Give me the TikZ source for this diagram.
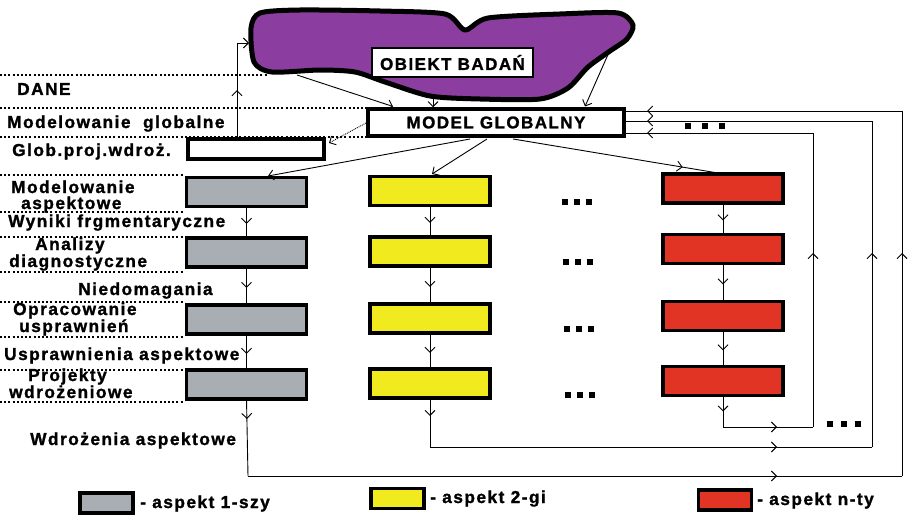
\documentclass[tikz,border=0pt]{standalone}
\usepackage{fontspec}
\setmainfont{Liberation Sans}
\newfontfamily\labfont{Liberation Sans}[LetterSpace=8.5, BoldFeatures={FakeBold=1.3}]
\usetikzlibrary{arrows.meta,decorations.markings}
\definecolor{blobc}{RGB}{140,62,160}
\definecolor{grayc}{RGB}{168,174,180}
\definecolor{yelc}{RGB}{240,234,30}
\definecolor{redc}{RGB}{226,52,36}
\tikzset{
  lab/.style={font=\labfont\bfseries\fontsize{17.3}{16}\selectfont, inner sep=0pt, anchor=base west},
  abox/.style={draw, line width=3.5pt, minimum width=120pt, minimum height=29pt, inner sep=0pt, outer sep=0pt},
  gbox/.style={abox, fill=grayc},
  ybox/.style={abox, fill=yelc},
  rbox/.style={abox, fill=redc},
  lbox/.style={draw, line width=3.5pt, minimum width=53pt, minimum height=20pt, inner sep=0pt},
  conn/.style={line width=0.9pt},
  barb/.style={-{Straight Barb[length=5pt,width=10pt]}},
  dotl/.style={line width=1.2pt, dash pattern=on 2pt off 2.2pt},
  tipat/.style={postaction={decorate}, decoration={markings, mark=at position #1 with {\arrow{Straight Barb[length=5pt,width=10pt,line width=0.9pt]}}}},
  sq/.style={fill=black, minimum size=5.5pt, inner sep=0pt},
}
\begin{document}
\begin{tikzpicture}[x=1pt, y=-1pt]
\useasboundingbox (0,0) rectangle (911,516);
\fill[white] (0,0) rectangle (911,516);

% dotted level lines
\draw[dotl] (0,75) -- (268,75);
\draw[dotl] (0,108) -- (367,108);
\draw[dotl] (0,137) -- (367,137);
\foreach \yy in {175,212,237,272,302,337,370,402}
  \draw[dotl] (0,\yy) -- (184,\yy);

% blob
\draw[line width=5pt, fill=blobc, line join=round] plot[smooth cycle, tension=0.45] coordinates {
 (260,13) (300,10) (380,11) (445,14) (465,30) (488,18) (560,14) (618,13) (633,25) (627,39)
 (610,51) (588,67) (568,88) (540,99) (480,99) (430,96) (385,82) (355,72) (320,70) (272,72) (254,62) (251,28)};
\coordinate (bl) at (297,75);
\coordinate (bm) at (433,97);
\coordinate (br) at (610,50);
\coordinate (bin) at (249,43);

\node[draw, line width=2pt, fill=white, minimum width=161pt, minimum height=29pt, inner sep=0pt,
      font=\labfont\bfseries\fontsize{17}{17}\selectfont] (obj) at (452.5,62.5) {OBIEKT BADAŃ};
\node[draw, line width=3.5pt, fill=white, minimum width=256pt, minimum height=27pt, inner sep=0pt,
      font=\labfont\bfseries\fontsize{17}{17}\selectfont] (mg) at (496,122.5) {MODEL GLOBALNY};
\node[draw, line width=3.5pt, fill=white, minimum width=136pt, minimum height=20pt, inner sep=0pt] (glob) at (256,149) {};

% aspect boxes
\node[gbox] (g1) at (246.5,192) {};
\node[gbox] (g2) at (246.5,252.5) {};
\node[gbox] (g3) at (246.5,319.5) {};
\node[gbox] (g4) at (246.5,384.5) {};
\node[ybox] (y1) at (430,191) {};
\node[ybox] (y2) at (430,251.5) {};
\node[ybox] (y3) at (430,318.5) {};
\node[ybox] (y4) at (430,383.5) {};
\node[rbox] (r1) at (723,188.5) {};
\node[rbox] (r2) at (723,249) {};
\node[rbox] (r3) at (723,316) {};
\node[rbox] (r4) at (723,381) {};

% vertical arrows between boxes
\foreach \c in {g,y,r}{
  \draw[conn, tipat=0.55] (\c1.south) -- (\c2.north);
  \draw[conn, tipat=0.55] (\c2.south) -- (\c3.north);
  \draw[conn, tipat=0.55] (\c3.south) -- (\c4.north);
}

% blob -> model
\draw[conn, barb] (bl) -- (393,106.5);
\draw[conn, barb] (bm) -- (bm |- mg.north);
\draw[conn, barb] (br) -- (585,106.5);

% glob -> blob
\coordinate (gu) at (237,43);
\draw[conn, tipat=0.5] (glob.north -| gu) -- (gu);
\draw[conn, barb] (gu) -- (bin);

% model -> glob
\draw[conn, densely dotted, barb] (366,123) -- (329,143);

% model -> first boxes
\draw[conn, barb] (470,139) -- (268,176);
\draw[conn, barb] (487,139) -- (432,174);
\draw[conn, tipat=0.84] (513,139) -- (715,172.5);

% feedback loops
\coordinate (gA) at (248,476);
\coordinate (gB) at (902,476);
\coordinate (gC) at (902,111);
\coordinate (yA) at (430,447);
\coordinate (yB) at (872,447);
\coordinate (yC) at (872,121);
\coordinate (rA) at (723,427);
\coordinate (rB) at (813,427);
\coordinate (rC) at (813,133);

\draw[conn, tipat=20pt] (g4.south) -- (gA);
\draw[conn, tipat=529pt] (gA) -- (gB);
\draw[conn, tipat=223pt] (gB) -- (gC);
\draw[conn, tipat=255pt] (gC) -- (gC -| mg.east);

\draw[conn, tipat=18pt] (y4.south) -- (yA);
\draw[conn, tipat=347pt] (yA) -- (yB);
\draw[conn, tipat=194pt] (yB) -- (yC);
\draw[conn, tipat=225pt] (yC) -- (yC -| mg.east);

\draw[conn, tipat=16pt] (r4.south) -- (rA);
\draw[conn, tipat=54pt] (rA) -- (rB);
\draw[conn, tipat=174pt] (rB) -- (rC);
\draw[conn, tipat=166pt] (rC) -- (rC -| mg.east);

% dots
\foreach \px/\py in {565/202, 577/202, 589/202, 566/262, 578/262, 590/262,
                     567/329, 579/329, 591/329, 568/395, 580/395, 592/395,
                     688/126, 705/126, 722/126, 830/424, 844/424, 858/424}
  \node[sq] at (\px,\py) {};

% left labels
\node[lab] (t1) at (17,95) {DANE};
\node[lab] (t2) at (7,128) {Modelowanie\ \ globalne};
\node[lab] (t3) at (12,156) {Glob.proj.wdroż.};
\node[lab, align=left] (t4) at (11,209) {Modelowanie\\\hspace*{10pt}aspektowe};
\node[lab] (t6) at (8,227) {Wyniki frgmentaryczne};
\node[lab] (t7) at (35,250) {Analizy};
\node[lab] (t8) at (9,267) {diagnostyczne};
\node[lab] (t9) at (78,295) {Niedomagania};
\node[lab] (t10) at (13,315) {Opracowanie};
\node[lab] (t11) at (19,332) {usprawnień};
\node[lab] (t12) at (4,360) {Usprawnienia aspektowe};
\node[lab] (t13) at (28,381) {Projekty};
\node[lab] (t14) at (9,398) {wdrożeniowe};
\node[lab] (t15) at (30,445) {Wdrożenia aspektowe};

% legend
\node[lbox, fill=grayc] (lg) at (106.5,503) {};
\node[lab] at (140,508) {- aspekt 1-szy};
\node[lbox, fill=yelc] (ly) at (397.5,498.5) {};
\node[lab] at (430,503) {- aspekt 2-gi};
\node[lbox, fill=redc] (lr) at (725,500) {};
\node[lab] at (757,505) {- aspekt n-ty};
\end{tikzpicture}
\end{document}
